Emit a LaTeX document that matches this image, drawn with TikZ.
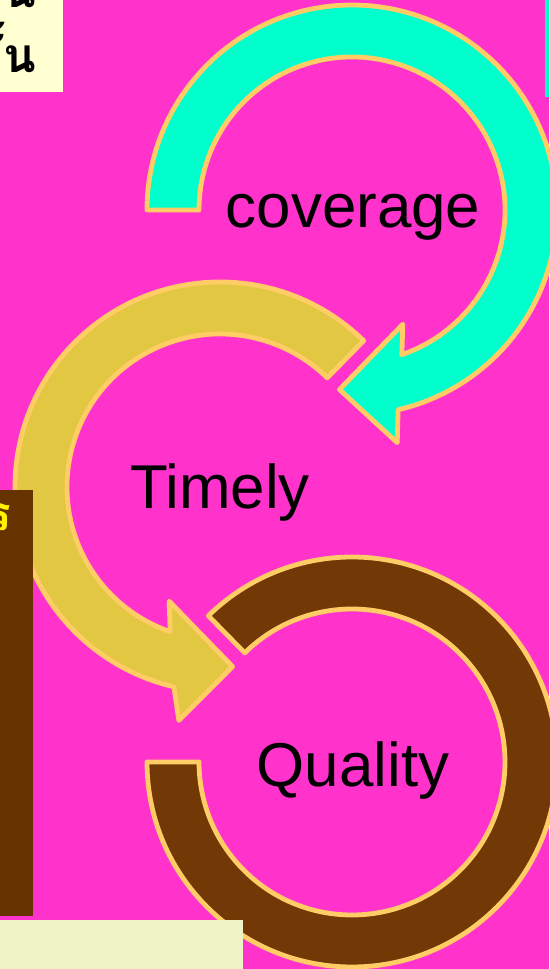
\documentclass[tikz,border=0pt]{standalone}
\usepackage{fontspec}
\newfontfamily\labelfont{Liberation Sans}
\newfontfamily\thaifont[Script=Thai]{Loma}
\usetikzlibrary{calc}

\definecolor{pinkbg}{HTML}{FF33CC}
\definecolor{tealc}{HTML}{00FFCC}
\definecolor{goldc}{HTML}{E2C842}
\definecolor{brownc}{HTML}{723805}
\definecolor{rimc}{HTML}{FFCC66}
\definecolor{darkbox}{HTML}{663300}
\definecolor{paleyel}{HTML}{FFFFD2}
\definecolor{palegrn}{HTML}{EEF4C6}

\begin{document}
\begin{tikzpicture}[x=0.025cm,y=0.025cm,
  ring/.style={draw=rimc,line width=0.12cm,line join=round},
  word/.style={font=\labelfont\fontsize{44}{50}\selectfont,text=black,inner sep=0pt}]
\fill[pinkbg] (0,0) rectangle (549,969);
\useasboundingbox (0,0) rectangle (549,969);
\coordinate (T) at (352,759); \coordinate (Y) at (220,482); \coordinate (B) at (352,207);
% arcs
\draw[ring,fill=tealc] ($(T)+(180:205)$) arc[start angle=180,end angle=-77,radius=205]
  -- ($(T)+(-79:237)$) -- ($(T)+(-94:180)$) -- ($(T)+(-66:125)$)
  -- ($(T)+(-71:153)$) arc[start angle=-71,end angle=180,radius=153] -- cycle;
\draw[ring,fill=goldc] ($(Y)+(45.5:205)$) arc[start angle=45.5,end angle=257,radius=205]
  -- ($(Y)+(260:237)$) -- ($(Y)+(274:180)$) -- ($(Y)+(246:125)$)
  -- ($(Y)+(251:153)$) arc[start angle=251,end angle=45.5,radius=153] -- cycle;
\draw[ring,fill=brownc] ($(B)+(180:205)$) arc[start angle=180,end angle=494.5,radius=205]
  -- ($(B)+(494.5:153)$) arc[start angle=494.5,end angle=180,radius=153] -- cycle;
\node[word] (cov) at (353,752) {coverage};
\node[word] (tim) at (220,476) {Timely};
\node[word] (qua) at (353,198) {Quality};
% side boxes
\begin{scope}
  \clip (0,877) rectangle (63,969);
  \fill[paleyel] (0,877) rectangle (63,969);
  \node[font=\thaifont\bfseries\fontsize{34}{46}\selectfont,align=right,anchor=south east,inner sep=0pt] (thai) at (36,896) {งาน\\ขั้น};
\end{scope}
\begin{scope}
  \clip (0,53) rectangle (33,479);
  \fill[darkbox] (0,53) rectangle (33,479);
  \node[font=\thaifont\bfseries\fontsize{34}{46}\selectfont,text=yellow,anchor=north east,inner sep=0pt] (mark) at (11,466) {ร};
\end{scope}
\fill[palegrn] (0,0) rectangle (243,49);
\fill[tealc] (545,872) rectangle (549,969);
\end{tikzpicture}
\end{document}
